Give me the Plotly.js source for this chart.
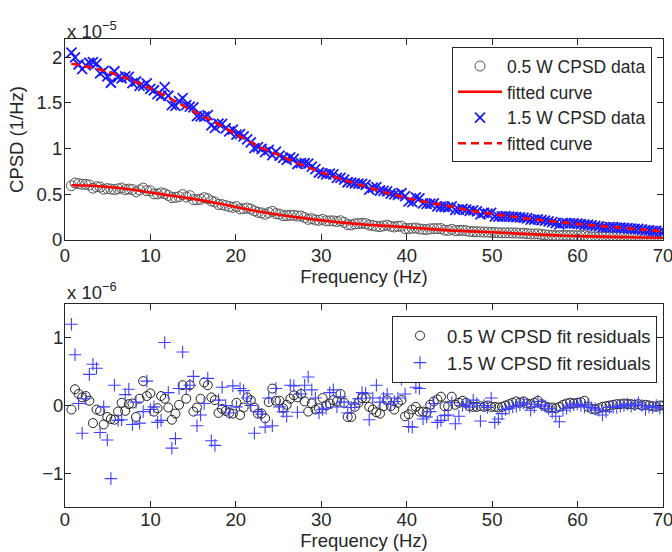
<!DOCTYPE html>
<html>
<head>
<meta charset="utf-8">
<script src="https://cdn.plot.ly/plotly-3.0.1.min.js"></script>
<style>html,body{margin:0;padding:0;background:#fff;}#chart{width:672px;height:552px;}</style>
</head>
<body>
<div id="chart"></div>
<script>
// Frequency grid (Hz), shared by all measured series
const freq = [0.75,1.17,1.59,2.01,2.43,2.85,3.27,3.69,4.11,4.53,
4.95,5.37,5.79,6.21,6.63,7.05,7.47,7.89,8.31,8.73,
9.15,9.57,9.99,10.41,10.83,11.25,11.67,12.09,12.51,12.93,
13.35,13.77,14.19,14.61,15.03,15.45,15.87,16.29,16.71,17.13,
17.55,17.97,18.39,18.81,19.23,19.65,20.07,20.49,20.91,21.33,
21.75,22.17,22.59,23.01,23.43,23.85,24.27,24.69,25.11,25.53,
25.95,26.37,26.79,27.21,27.63,28.05,28.47,28.89,29.31,29.73,
30.15,30.57,30.99,31.41,31.83,32.25,32.67,33.09,33.51,33.93,
34.35,34.77,35.19,35.61,36.03,36.45,36.87,37.29,37.71,38.13,
38.55,38.97,39.39,39.81,40.23,40.65,41.07,41.49,41.91,42.33,
42.75,43.17,43.59,44.01,44.43,44.85,45.27,45.69,46.11,46.53,
46.95,47.37,47.79,48.21,48.63,49.05,49.47,49.89,50.31,50.73,
51.15,51.57,51.99,52.41,52.83,53.25,53.67,54.09,54.51,54.93,
55.35,55.77,56.19,56.61,57.03,57.45,57.87,58.29,58.71,59.13,
59.55,59.97,60.39,60.81,61.23,61.65,62.07,62.49,62.91,63.33,
63.75,64.17,64.59,65.01,65.43,65.85,66.27,66.69,67.11,67.53,
67.95,68.37,68.79,69.21,69.63,70.05];

// 0.5 W CPSD data (units of 1e-5 1/Hz)
const cpsd05 = [0.594,0.624,0.616,0.610,0.610,0.602,0.567,0.584,0.579,0.556,
0.563,0.557,0.552,0.560,0.569,0.552,0.557,0.553,0.527,0.548,
0.568,0.540,0.538,0.505,0.504,0.516,0.507,0.488,0.464,0.467,
0.474,0.497,0.471,0.485,0.441,0.440,0.446,0.463,0.452,0.427,
0.416,0.389,0.387,0.377,0.366,0.357,0.366,0.340,0.343,0.350,
0.338,0.319,0.302,0.296,0.282,0.300,0.313,0.289,0.283,0.267,
0.267,0.271,0.271,0.262,0.262,0.246,0.226,0.233,0.219,0.216,
0.226,0.210,0.209,0.209,0.203,0.210,0.193,0.168,0.165,0.177,
0.179,0.183,0.180,0.164,0.158,0.151,0.147,0.155,0.162,0.150,
0.143,0.150,0.152,0.125,0.125,0.129,0.131,0.121,0.118,0.114,
0.122,0.124,0.124,0.125,0.108,0.105,0.117,0.103,0.105,0.106,
0.101,0.094,0.092,0.090,0.089,0.087,0.087,0.083,0.082,0.079,
0.078,0.078,0.078,0.077,0.077,0.074,0.074,0.069,0.066,0.066,
0.067,0.061,0.056,0.052,0.050,0.047,0.048,0.049,0.050,0.049,
0.047,0.047,0.047,0.048,0.038,0.034,0.032,0.033,0.034,0.034,
0.034,0.034,0.035,0.034,0.034,0.033,0.032,0.030,0.031,0.028,
0.028,0.027,0.025,0.024,0.025,0.025];

// 1.5 W CPSD data (units of 1e-5 1/Hz)
const cpsd15 = [2.050,2.000,1.921,1.870,1.912,1.940,1.946,1.930,1.824,1.851,
1.790,1.721,1.847,1.781,1.769,1.792,1.785,1.718,1.735,1.687,
1.687,1.714,1.654,1.639,1.596,1.579,1.674,1.579,1.477,1.469,
1.521,1.553,1.477,1.460,1.451,1.357,1.353,1.350,1.367,1.255,
1.228,1.274,1.271,1.222,1.189,1.207,1.154,1.160,1.135,1.102,
1.069,1.006,1.017,0.997,0.961,0.987,0.929,0.967,0.924,0.900,
0.876,0.905,0.887,0.832,0.842,0.840,0.837,0.803,0.776,0.739,
0.729,0.718,0.727,0.718,0.679,0.681,0.660,0.632,0.628,0.621,
0.617,0.615,0.603,0.552,0.572,0.579,0.542,0.537,0.532,0.507,
0.500,0.495,0.513,0.481,0.424,0.415,0.466,0.455,0.402,0.396,
0.397,0.402,0.367,0.364,0.364,0.358,0.369,0.330,0.332,0.340,
0.333,0.320,0.324,0.313,0.281,0.298,0.288,0.297,0.256,0.256,
0.259,0.260,0.257,0.254,0.250,0.247,0.245,0.238,0.224,0.224,
0.227,0.218,0.212,0.204,0.195,0.185,0.172,0.185,0.184,0.183,
0.181,0.178,0.173,0.167,0.167,0.159,0.154,0.148,0.138,0.139,
0.142,0.140,0.135,0.134,0.132,0.130,0.124,0.123,0.122,0.115,
0.105,0.106,0.101,0.101,0.094,0.093];

// Fitted curves (units of 1e-5 1/Hz)
const fitFreq = [0.75,2.5,5,7.5,10,12.5,15,17.5,20,22.5,25,27.5,30,32.5,35,37.5,40,42.5,45,47.5,50,52.5,55,57.5,60,62.5,65,67.5,70];
const fit05 = [0.600,0.596,0.580,0.555,0.520,0.485,0.450,0.408,0.362,0.315,0.277,0.245,0.215,0.190,0.170,0.155,0.140,0.122,0.105,0.095,0.085,0.073,0.062,0.051,0.043,0.037,0.032,0.028,0.025];
const fit15 = [1.930,1.900,1.840,1.760,1.660,1.540,1.410,1.290,1.160,1.030,0.930,0.830,0.740,0.660,0.590,0.520,0.460,0.410,0.370,0.320,0.285,0.255,0.225,0.200,0.176,0.155,0.135,0.115,0.095];

// Fit residuals (units of 1e-6 1/Hz)
const resid05 = [-0.06,0.24,0.17,0.12,0.14,0.07,-0.26,-0.06,-0.08,-0.28,
-0.17,-0.20,-0.21,-0.09,0.04,-0.08,0.02,0.03,-0.17,0.10,
0.36,0.14,0.18,-0.09,-0.04,0.14,0.10,-0.03,-0.21,-0.12,
0.01,0.30,0.10,0.30,-0.09,-0.03,0.10,0.34,0.30,0.12,
0.08,-0.11,-0.05,-0.08,-0.11,-0.12,0.04,-0.14,-0.03,0.12,
0.08,-0.03,-0.12,-0.12,-0.19,0.05,0.25,0.07,0.07,-0.04,
0.01,0.10,0.15,0.12,0.17,0.06,-0.09,0.03,-0.06,-0.04,
0.11,0.00,0.03,0.08,0.06,0.17,0.04,-0.17,-0.17,-0.02,
0.04,0.11,0.11,-0.02,-0.06,-0.10,-0.12,-0.01,0.08,-0.01,
-0.06,0.04,0.08,-0.16,-0.13,-0.06,-0.02,-0.09,-0.09,-0.10,
0.01,0.06,0.09,0.13,-0.01,-0.01,0.13,0.01,0.04,0.07,
0.04,-0.01,-0.02,-0.02,-0.01,-0.02,0.00,-0.02,-0.02,-0.03,
-0.02,0.00,0.02,0.04,0.06,0.04,0.06,0.03,0.02,0.04,
0.07,0.02,-0.01,-0.03,-0.03,-0.04,-0.02,0.01,0.03,0.04,
0.03,0.04,0.05,0.07,-0.02,-0.05,-0.06,-0.04,-0.02,-0.01,
0.00,0.01,0.02,0.02,0.03,0.02,0.02,0.01,0.02,0.00,
0.01,0.00,-0.01,-0.02,0.00,0.00];

const resid15 = [1.20,0.75,0.03,-0.41,0.10,0.46,0.61,0.55,-0.40,-0.02,
-0.51,-1.08,0.30,-0.22,-0.21,0.16,0.24,-0.28,0.05,-0.26,
-0.09,0.36,-0.06,-0.02,-0.25,-0.22,0.93,0.19,-0.63,-0.49,
0.25,0.79,0.25,0.30,0.43,-0.30,-0.14,0.03,0.40,-0.52,
-0.59,0.08,0.27,0.00,-0.11,0.29,-0.02,0.25,0.22,0.11,
0.00,-0.41,-0.09,-0.13,-0.32,0.11,-0.30,0.25,-0.02,-0.09,
-0.16,0.30,0.29,-0.10,0.17,0.30,0.42,0.23,0.11,-0.11,
-0.06,-0.04,0.19,0.23,-0.02,0.13,0.05,-0.11,-0.03,0.02,
0.10,0.19,0.18,-0.21,0.11,0.30,0.05,0.11,0.17,0.02,
0.06,0.11,0.39,0.17,-0.31,-0.32,0.27,0.25,-0.20,-0.17,
-0.09,0.03,-0.25,-0.22,-0.15,-0.14,0.04,-0.27,-0.16,0.00,
0.02,-0.02,0.08,0.03,-0.23,0.00,-0.03,0.11,-0.25,-0.20,
-0.12,-0.06,-0.04,-0.02,-0.01,0.01,0.04,0.02,-0.07,-0.02,
0.06,0.01,-0.01,-0.05,-0.10,-0.16,-0.24,-0.07,-0.04,-0.01,
0.01,0.02,0.00,-0.02,0.01,-0.03,-0.05,-0.07,-0.14,-0.09,
-0.03,-0.02,-0.03,-0.01,0.00,0.02,-0.01,0.01,0.04,0.00,
-0.06,-0.02,-0.03,0.00,-0.04,-0.02];

// Axis ticks
const xTicks = [0,10,20,30,40,50,60,70];
const yTopTicks = [0,0.5,1,1.5,2];
const yTopLabels = ['0','0.5','1','1.5','2'];
const yBotTicks = [-1,0,1];
const yBotLabels = ['\u22121','0','1'];

const FONT = 'Liberation Sans, Arial, Helvetica, sans-serif';
const INK = '#262626';
const FS = 18.5;

const traces = [
  {x: freq, y: cpsd05, xaxis:'x', yaxis:'y', type:'scatter', mode:'markers', name:'0.5 W CPSD data',
   marker:{symbol:'circle-open', size:10, color:'#555555', line:{width:1, color:'#555555'}}},
  {x: fitFreq, y: fit05, xaxis:'x', yaxis:'y', type:'scatter', mode:'lines', name:'fitted curve',
   line:{color:'#ff0000', width:2.6, shape:'spline', smoothing:0.6}},
  {x: freq, y: cpsd15, xaxis:'x', yaxis:'y', type:'scatter', mode:'markers', name:'1.5 W CPSD data',
   marker:{symbol:'x-thin-open', size:10, color:'#1a1aff', line:{width:1.8, color:'#1a1aff'}}},
  {x: fitFreq, y: fit15, xaxis:'x', yaxis:'y', type:'scatter', mode:'lines', name:'fitted curve',
   line:{color:'#ff0000', width:2.6, dash:'8px,5px', shape:'spline', smoothing:0.6}},
  {x: freq, y: resid05, xaxis:'x2', yaxis:'y2', type:'scatter', mode:'markers', name:'0.5 W CPSD fit residuals', legend:'legend2',
   marker:{symbol:'circle-open', size:9, color:'#222222', line:{width:1, color:'#222222'}}},
  {x: freq, y: resid15, xaxis:'x2', yaxis:'y2', type:'scatter', mode:'markers', name:'1.5 W CPSD fit residuals', legend:'legend2',
   marker:{symbol:'cross-thin-open', size:9, color:'#4040ff', line:{width:1.1, color:'#4040ff'}}}
];

const axBase = {
  showline:true, linecolor:INK, linewidth:1, mirror:'allticks', ticks:'inside', ticklen:6,
  tickcolor:INK, showgrid:false, zeroline:false, tickfont:{family:FONT, size:FS, color:INK},
  ticklabeloverflow:'allow'
};

const layout = {
  width:672, height:552,
  margin:{l:65, r:9, t:39, b:45},
  paper_bgcolor:'#ffffff', plot_bgcolor:'#ffffff',
  font:{family:FONT, size:FS, color:INK},
  showlegend:true,
  xaxis: Object.assign({}, axBase, {domain:[0,1], anchor:'y', range:[0,70], tickmode:'array', tickvals:xTicks,
    ticklabelstandoff:-1,
    title:{text:'Frequency (Hz)', font:{family:FONT, size:FS, color:INK}, standoff:1}}),
  yaxis: Object.assign({}, axBase, {domain:[0.5705,1], anchor:'x', range:[0,2.2], tickmode:'array', tickvals:yTopTicks, ticktext:yTopLabels,
    ticklabelstandoff:-2,
    title:{text:'CPSD (1/Hz)', font:{family:FONT, size:FS, color:INK}, standoff:8}}),
  xaxis2: Object.assign({}, axBase, {domain:[0,1], anchor:'y2', range:[0,70], tickmode:'array', tickvals:xTicks,
    ticklabelstandoff:-4,
    title:{text:'Frequency (Hz)', font:{family:FONT, size:FS, color:INK}, standoff:3}}),
  yaxis2: Object.assign({}, axBase, {domain:[0,0.4338], anchor:'x2', range:[-1.5,1.5], tickmode:'array', tickvals:yBotTicks, ticktext:yBotLabels,
    ticklabelstandoff:-3}),
  legend:{x:0.9816, y:0.9826, xref:'paper', yref:'paper', xanchor:'right', yanchor:'top', bgcolor:'#ffffff',
    bordercolor:INK, borderwidth:1, font:{family:FONT, size:17.5, color:INK}, itemwidth:44, tracegroupgap:0},
  legend2:{x:0.99, y:0.408, xref:'paper', yref:'paper', xanchor:'right', yanchor:'top', bgcolor:'#ffffff',
    bordercolor:INK, borderwidth:1, font:{family:FONT, size:FS, color:INK}, itemwidth:44, tracegroupgap:0},
  annotations:[
    {xref:'paper', yref:'paper', x:0, y:1.008, xanchor:'left', yanchor:'bottom', showarrow:false, yshift:-9,
     text:'x 10<sup>\u22125</sup>', font:{family:FONT, size:FS, color:INK}},
    {xref:'paper', yref:'paper', x:0, y:0.442, xanchor:'left', yanchor:'bottom', showarrow:false, yshift:-5,
     text:'x 10<sup>\u22126</sup>', font:{family:FONT, size:FS, color:INK}}
  ]
};

Plotly.newPlot('chart', traces, layout, {staticPlot:true, displayModeBar:false});
</script>
</body>
</html>
